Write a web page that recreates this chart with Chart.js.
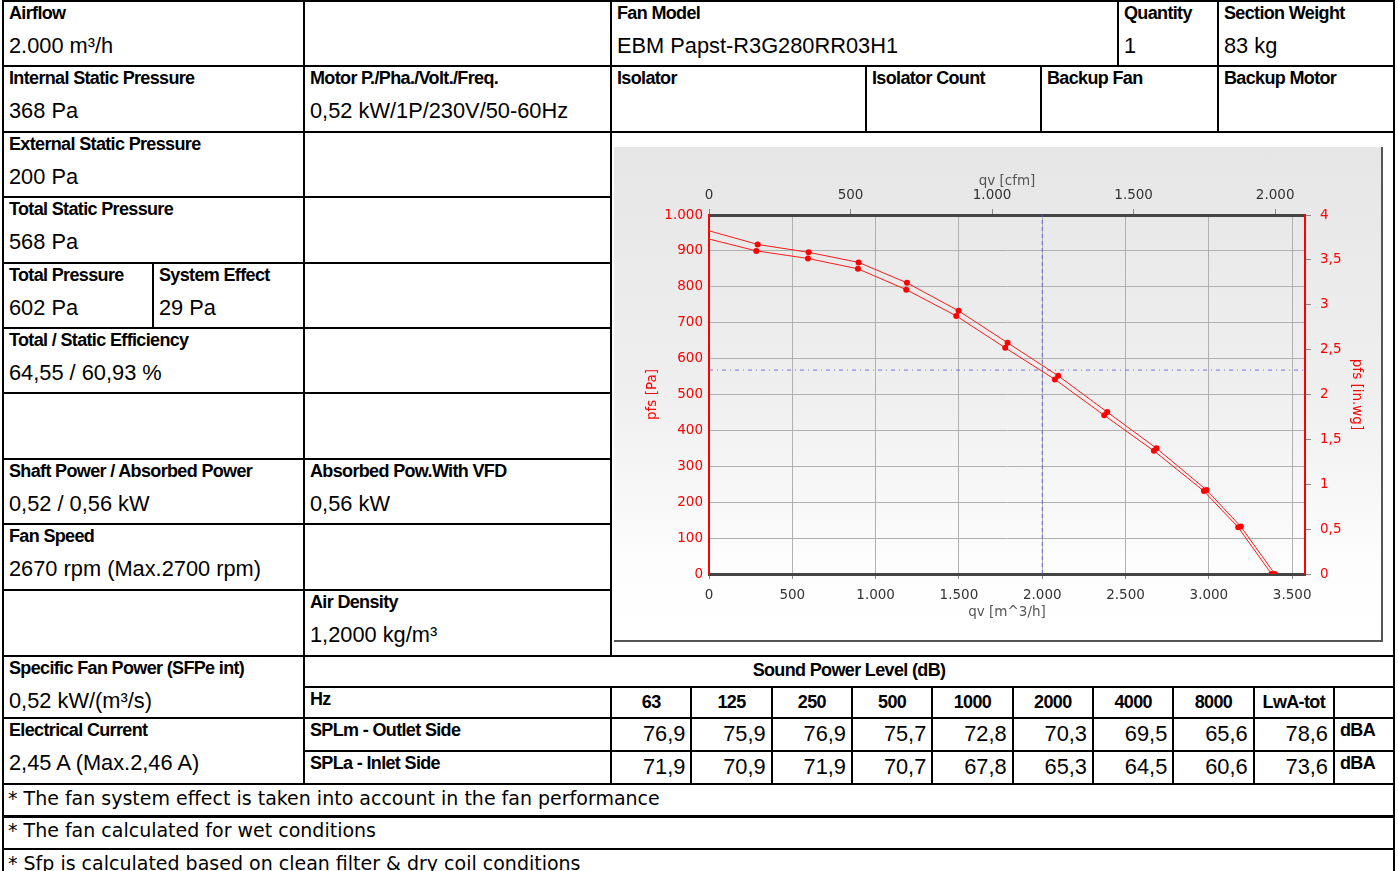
<!DOCTYPE html>
<html>
<head>
<meta charset="utf-8">
<script src="https://cdn.jsdelivr.net/npm/chart.js@4.4.1/dist/chart.umd.min.js"></script>
<style>
  html, body { margin: 0; padding: 0; background: #fff; width: 1398px; height: 871px; overflow: hidden; }
  body { position: relative; font-family: "Liberation Sans", Arial, sans-serif; color: #000; }
  .c { position: absolute; box-sizing: border-box; border: 2px solid #000; }
  .c b { position: absolute; left: 5px; top: 1px; font-size: 18px; line-height: 20px; letter-spacing: -0.65px; white-space: nowrap; }
  .c span { position: absolute; left: 5px; top: 32px; font-size: 21.8px; line-height: 24px; white-space: nowrap; }
  .h { position: absolute; box-sizing: border-box; border: 2px solid #000; font-size: 18px; font-weight: bold; letter-spacing: -0.65px; text-align: center; }
  .v { position: absolute; box-sizing: border-box; border: 2px solid #000; font-size: 21.8px; text-align: right; padding-right: 5px; }
  .n { position: absolute; box-sizing: border-box; border: 2px solid #000; font-family: "DejaVu Sans", sans-serif; font-size: 19px; padding-left: 4px; white-space: nowrap; }
  #panel { position: absolute; left: 614px; top: 147px; width: 767px; height: 493px;
           border-right: 2px solid #555; border-bottom: 2px solid #555;
           background: linear-gradient(to bottom, #e6e6e6 0%, #efefef 50%, #fdfdfd 85%, #ffffff 100%); }
</style>
</head>
<body>
<div id="sheet"></div>
<div id="panel"><canvas id="fanChart" width="767" height="493"></canvas></div>

<script>
  // fan curve (qv in m3/h, pfs in Pa)
  const flowUpper  = [0, 292, 598, 898, 1188, 1498, 1792, 2096, 2390, 2686, 2986, 3192, 3396];
  const pressUpper = [956, 918, 896, 868, 811, 733, 644, 552, 451, 350, 234, 132, 0];
  const flowLower  = [0, 284, 594, 894, 1184, 1484, 1778, 2076, 2372, 2670, 2970, 3176, 3376];
  const pressLower = [933, 900, 879, 850, 792, 719, 630, 542, 442, 343, 231, 130, 0];

  // operating point
  const designFlow = 2000;
  const designPressure = 568;

  const xMax = 3577;
  const m3hPerCfm = 1.699;

  // axis ticks
  const flowTicks = [0, 500, 1000, 1500, 2000, 2500, 3000, 3500];
  const cfmTicks = [0, 500, 1000, 1500, 2000];

  // sound table
  const bands = ['63', '125', '250', '500', '1000', '2000', '4000', '8000', 'LwA-tot'];
  const splOutlet = [76.9, 75.9, 76.9, 75.7, 72.8, 70.3, 69.5, 65.6, 78.6];
  const splInlet  = [71.9, 70.9, 71.9, 70.7, 67.8, 65.3, 64.5, 60.6, 73.6];

  const notes = [
    '* The fan system effect is taken into account in the fan performance',
    '* The fan calculated for wet conditions',
    '* Sfp is calculated based on clean filter & dry coil conditions'
  ];

  // x1, y1, x2, y2, label, value
  const cells = [
    [3, 1, 304, 66, 'Airflow', '2.000 m³/h'],
    [304, 1, 611, 66],
    [611, 1, 1118, 66, 'Fan Model', 'EBM Papst-R3G280RR03H1'],
    [1118, 1, 1218, 66, 'Quantity', '1'],
    [1218, 1, 1394, 66, 'Section Weight', '83 kg'],
    [3, 66, 304, 132, 'Internal Static Pressure', '368 Pa'],
    [304, 66, 611, 132, 'Motor P./Pha./Volt./Freq.', '0,52 kW/1P/230V/50-60Hz'],
    [611, 66, 866, 132, 'Isolator'],
    [866, 66, 1041, 132, 'Isolator Count'],
    [1041, 66, 1218, 132, 'Backup Fan'],
    [1218, 66, 1394, 132, 'Backup Motor'],
    [3, 132, 304, 197, 'External Static Pressure', '200 Pa'],
    [304, 132, 611, 197],
    [611, 132, 1394, 656],
    [3, 197, 304, 263, 'Total Static Pressure', '568 Pa'],
    [304, 197, 611, 263],
    [3, 263, 153, 328, 'Total Pressure', '602 Pa'],
    [153, 263, 304, 328, 'System Effect', '29 Pa'],
    [304, 263, 611, 328],
    [3, 328, 304, 393, 'Total / Static Efficiency', '64,55 / 60,93 %'],
    [304, 328, 611, 393],
    [3, 393, 304, 459],
    [304, 393, 611, 459],
    [3, 459, 304, 524, 'Shaft Power / Absorbed Power', '0,52 / 0,56 kW'],
    [304, 459, 611, 524, 'Absorbed Pow.With VFD', '0,56 kW'],
    [3, 524, 304, 590, 'Fan Speed', '2670 rpm (Max.2700 rpm)'],
    [304, 524, 611, 590],
    [3, 590, 304, 656],
    [304, 590, 611, 656, 'Air Density', '1,2000 kg/m³'],
    [3, 656, 304, 718, 'Specific Fan Power (SFPe int)', '0,52 kW/(m³/s)'],
    [3, 718, 304, 784, 'Electrical Current', '2,45 A (Max.2,46 A)']
  ];

  const sheet = document.getElementById('sheet');

  function box(cls, x1, y1, x2, y2) {
    const d = document.createElement('div');
    d.className = cls;
    d.style.left = (x1 - 1) + 'px';
    d.style.top = (y1 - 1) + 'px';
    d.style.width = (x2 - x1 + 2) + 'px';
    d.style.height = (y2 - y1 + 2) + 'px';
    sheet.appendChild(d);
    return d;
  }

  cells.forEach(([x1, y1, x2, y2, label, value]) => {
    const d = box('c', x1, y1, x2, y2);
    if (label) { const b = document.createElement('b'); b.textContent = label; d.appendChild(b); }
    if (value) { const s = document.createElement('span'); s.textContent = value; d.appendChild(s); }
  });

  // sound power block
  const t = box('h', 304, 656, 1394, 687);
  t.textContent = 'Sound Power Level (dB)';
  t.style.lineHeight = '27px';

  const colX = bands.map((b, i) => 611 + i * 80.33);
  colX.push(1334, 1394);

  const rowLabels = [['Hz', 687, 718], ['SPLm - Outlet Side', 718, 751], ['SPLa - Inlet Side', 751, 784]];
  rowLabels.forEach(([txt, y1, y2]) => {
    const d = box('c', 304, y1, 611, y2);
    const b = document.createElement('b'); b.textContent = txt; d.appendChild(b);
  });

  const fmt1 = v => v.toFixed(1).replace('.', ',');

  bands.forEach((band, i) => {
    const h = box('h', colX[i], 687, colX[i + 1], 718);
    h.textContent = band;
    h.style.lineHeight = '28px';
    const a = box('v', colX[i], 718, colX[i + 1], 751);
    a.textContent = fmt1(splOutlet[i]);
    a.style.lineHeight = '29px';
    const b = box('v', colX[i], 751, colX[i + 1], 784);
    b.textContent = fmt1(splInlet[i]);
    b.style.lineHeight = '29px';
  });
  box('c', 1334, 687, 1394, 718);
  [[718, 751], [751, 784]].forEach(([y1, y2]) => {
    const d = box('c', 1334, y1, 1394, y2);
    const b = document.createElement('b'); b.textContent = 'dBA'; d.appendChild(b);
  });

  notes.forEach((txt, i) => {
    const y1 = [784, 816, 849][i];
    const d = box('n', 3, y1, 1394, y1 + 33);
    d.textContent = txt;
    d.style.lineHeight = '26px';
  });

  // number format 1.000 / 0,5
  function fmt(v) {
    const parts = String(Math.round(v * 100) / 100).split('.');
    const intPart = parts[0].replace(/\B(?=(\d{3})+(?!\d))/g, '.');
    return parts[1] ? intPart + ',' + parts[1] : intPart;
  }

  const tickFont = { family: 'DejaVu Sans', size: 13.5 };
  const markers = ctx => ctx.dataIndex === 0 ? 0 : 3;

  const config = {
    type: 'line',
    data: {
      datasets: [
        {
          data: flowUpper.map((x, i) => ({ x: x, y: pressUpper[i] })),
          borderColor: '#ff1a1a', backgroundColor: '#ff0000', borderWidth: 1,
          pointRadius: markers, pointBorderWidth: 0, tension: 0
        },
        {
          data: flowLower.map((x, i) => ({ x: x, y: pressLower[i] })),
          borderColor: '#ff1a1a', backgroundColor: '#ff0000', borderWidth: 1,
          pointRadius: markers, pointBorderWidth: 0, tension: 0
        },
        {
          data: [{ x: designFlow, y: 0 }, { x: designFlow, y: 1000 }],
          borderColor: 'rgba(90,90,225,0.85)', borderWidth: 1, borderDash: [4, 3],
          pointRadius: 0
        },
        {
          data: [{ x: 0, y: designPressure }, { x: xMax, y: designPressure }],
          borderColor: 'rgba(90,90,225,0.85)', borderWidth: 1, borderDash: [4, 4, 1, 4],
          pointRadius: 0
        }
      ]
    },
    options: {
      responsive: false,
      animation: false,
      devicePixelRatio: 1,
      layout: { padding: 0 },
      plugins: { legend: { display: false }, tooltip: { enabled: false } },
      scales: {
        x: {
          type: 'linear', position: 'bottom', min: 0, max: xMax,
          afterFit: s => { s.height = 66; },
          afterBuildTicks: s => { s.ticks = flowTicks.map(v => ({ value: v })); },
          grid: { color: '#b0b0b0', tickLength: 5, tickColor: '#888' },
          border: { color: '#444', width: 3 },
          ticks: { color: '#333', padding: 8, font: tickFont, maxRotation: 0, autoSkip: false, callback: fmt },
          title: { display: true, text: 'qv [m^3/h]', color: '#555', font: tickFont, padding: { top: 0, bottom: 19 } }
        },
        x2: {
          type: 'linear', axis: 'x', position: 'top', min: 0, max: xMax / m3hPerCfm,
          afterFit: s => { s.height = 68; },
          afterBuildTicks: s => { s.ticks = cfmTicks.map(v => ({ value: v })); },
          grid: { drawOnChartArea: false, tickLength: 6, tickColor: '#888' },
          border: { color: '#444', width: 3 },
          ticks: { color: '#333', padding: 5, font: tickFont, maxRotation: 0, autoSkip: false, callback: fmt },
          title: { display: true, text: 'qv [cfm]', color: '#555', font: tickFont, padding: { top: 26, bottom: 0 } }
        },
        y: {
          type: 'linear', position: 'left', min: 0, max: 1000,
          afterFit: s => { s.width = 95; },
          grid: { color: '#b0b0b0', drawTicks: false },
          border: { color: '#ff0000', width: 2 },
          ticks: { stepSize: 100, color: '#ff0000', padding: 6, font: tickFont, callback: fmt },
          title: { display: true, text: 'pfs [Pa]', color: '#ff0000', font: tickFont, padding: { top: 30, bottom: 0 } }
        },
        y2: {
          type: 'linear', position: 'right', min: 0, max: 4,
          afterFit: s => { s.width = 76; },
          grid: { drawOnChartArea: false, tickLength: 6, tickColor: '#888' },
          border: { color: '#ff0000', width: 2 },
          ticks: { stepSize: 0.5, color: '#ff0000', padding: 9, font: tickFont, callback: fmt },
          title: { display: true, text: 'pfs [in.wg]', color: '#ff0000', font: tickFont, padding: { top: 16, bottom: 0 } }
        }
      }
    }
  };

  const ctx = document.getElementById('fanChart').getContext('2d');
  new Chart(ctx, config);
</script>
</body>
</html>
